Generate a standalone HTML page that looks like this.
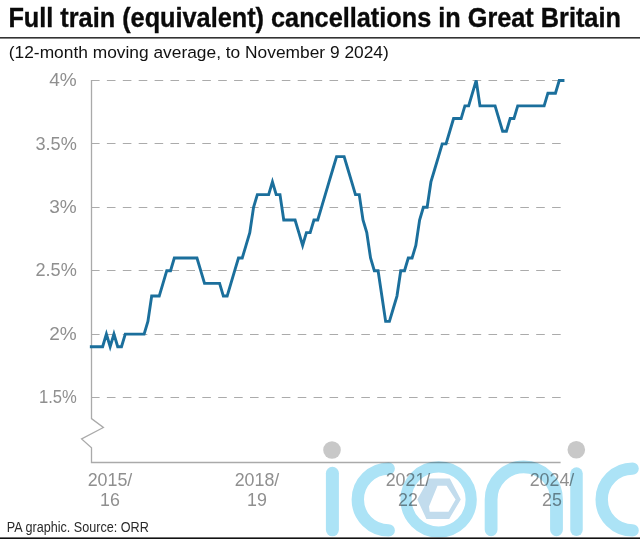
<!DOCTYPE html>
<html><head><meta charset="utf-8">
<style>
html,body{margin:0;padding:0;background:#fff;}
body{width:640px;height:539px;overflow:hidden;position:relative;}
svg{position:absolute;left:0;top:0;}
text{font-family:"Liberation Sans",sans-serif;}
.g{stroke:#ababab;stroke-width:1;stroke-dasharray:8.6 7.3;}
.yl{font-size:18.5px;fill:#8f8f8f;text-anchor:end;}
.xl{font-size:18.8px;fill:#8f8f8f;text-anchor:middle;}
</style></head><body>
<svg width="640" height="539" viewBox="0 0 640 539">
<rect x="0" y="0" width="640" height="539" fill="#fff"/>
<text x="8.4" y="26.6" font-size="26.8" font-weight="bold" fill="#0a0a0a" stroke="#0a0a0a" stroke-width="0.35" textLength="612.5" lengthAdjust="spacingAndGlyphs">Full train (equivalent) cancellations in Great Britain</text>
<rect x="0" y="37" width="640" height="1.6" fill="#333"/>
<text x="8.8" y="58.1" font-size="16.8" fill="#111" textLength="380" lengthAdjust="spacingAndGlyphs">(12-month moving average, to November 9 2024)</text>
<line x1="91" y1="80.50" x2="564" y2="80.50" class="g"/>
<text transform="translate(76.8,86.10) scale(1.03,1)" x="0" y="0" class="yl">4%</text>
<line x1="91" y1="143.50" x2="564" y2="143.50" class="g"/>
<text transform="translate(76.8,149.50) scale(0.98,1)" x="0" y="0" class="yl">3.5%</text>
<line x1="91" y1="207.50" x2="564" y2="207.50" class="g"/>
<text transform="translate(76.8,212.90) scale(1.03,1)" x="0" y="0" class="yl">3%</text>
<line x1="91" y1="270.50" x2="564" y2="270.50" class="g"/>
<text transform="translate(76.8,276.30) scale(0.98,1)" x="0" y="0" class="yl">2.5%</text>
<line x1="91" y1="334.50" x2="564" y2="334.50" class="g"/>
<text transform="translate(76.8,339.70) scale(1.03,1)" x="0" y="0" class="yl">2%</text>
<line x1="91" y1="397.50" x2="564" y2="397.50" class="g"/>
<text transform="translate(76.8,403.10) scale(0.9,1)" x="0" y="0" class="yl">1.5%</text>

<polyline points="91.5,80 91.5,418.6 103.4,427.5 81.6,439 91.5,447.8 91.5,462.5 560.6,462.5" fill="none" stroke="#aaaaaa" stroke-width="1.3"/>
<polyline points="91.30,346.78 95.07,346.78 98.85,346.78 102.62,346.78 106.39,334.10 110.17,346.78 113.94,334.10 117.72,346.78 121.49,346.78 125.26,334.10 129.04,334.10 132.81,334.10 136.58,334.10 140.36,334.10 144.13,334.10 147.90,321.42 151.68,296.06 155.45,296.06 159.22,296.06 163.00,283.38 166.77,270.70 170.55,270.70 174.32,258.02 178.09,258.02 181.87,258.02 185.64,258.02 189.41,258.02 193.19,258.02 196.96,258.02 200.73,270.70 204.51,283.38 208.28,283.38 212.06,283.38 215.83,283.38 219.60,283.38 223.38,296.06 227.15,296.06 230.92,283.38 234.70,270.70 238.47,258.02 242.24,258.02 246.02,245.34 249.79,232.66 253.56,207.30 257.34,194.62 261.11,194.62 264.89,194.62 268.66,194.62 272.43,181.94 276.21,194.62 279.98,194.62 283.75,219.98 287.53,219.98 291.30,219.98 295.07,219.98 298.85,232.66 302.62,245.34 306.40,232.66 310.17,232.66 313.94,219.98 317.72,219.98 321.49,207.30 325.26,194.62 329.04,181.94 332.81,169.26 336.58,156.58 340.36,156.58 344.13,156.58 347.90,169.26 351.68,181.94 355.45,194.62 359.23,194.62 363.00,219.98 366.77,232.66 370.55,258.02 374.32,270.70 378.09,270.70 381.87,296.06 385.64,321.42 389.41,321.42 393.19,308.74 396.96,296.06 400.74,270.70 404.51,270.70 408.28,258.02 412.06,258.02 415.83,245.34 419.60,219.98 423.38,207.30 427.15,207.30 430.92,181.94 434.70,169.26 438.47,156.58 442.24,143.90 446.02,143.90 449.79,131.22 453.57,118.54 457.34,118.54 461.11,118.54 464.89,105.86 468.66,105.86 472.43,93.18 476.21,80.50 479.98,105.86 483.75,105.86 487.53,105.86 491.30,105.86 495.08,105.86 498.85,118.54 502.62,131.22 506.40,131.22 510.17,118.54 513.94,118.54 517.72,105.86 521.49,105.86 525.26,105.86 529.04,105.86 532.81,105.86 536.58,105.86 540.36,105.86 544.13,105.86 547.91,93.18 551.68,93.18 555.45,93.18 559.23,80.50 563.00,80.50" fill="none" stroke="#1b6f9c" stroke-width="2.9" stroke-linejoin="miter" stroke-miterlimit="4" stroke-linecap="square"/>
<text class="xl" transform="translate(110.0,0) scale(0.95,1)" x="0" y="485.8">2015/</text><text class="xl" transform="translate(110.0,0) scale(0.95,1)" x="0" y="505.7">16</text>
<text class="xl" transform="translate(257.0,0) scale(0.95,1)" x="0" y="485.8">2018/</text><text class="xl" transform="translate(257.0,0) scale(0.95,1)" x="0" y="505.7">19</text>
<text class="xl" transform="translate(408.0,0) scale(0.95,1)" x="0" y="485.8">2021/</text><text class="xl" transform="translate(408.0,0) scale(0.95,1)" x="0" y="505.7">22</text>
<text class="xl" transform="translate(552.0,0) scale(0.95,1)" x="0" y="485.8">2024/</text><text class="xl" transform="translate(552.0,0) scale(0.95,1)" x="0" y="505.7">25</text>
<text x="6.8" y="532" font-size="14" fill="#2a2a2a" textLength="142" lengthAdjust="spacingAndGlyphs">PA graphic. Source: ORR</text>
<g style="mix-blend-mode:multiply">
<g fill="#c8c8c8"><circle cx="332" cy="450" r="8.8"/><circle cx="576.3" cy="449.7" r="8.8"/></g>
<g fill="none" stroke="#ace3f6" stroke-linecap="round">
<line x1="332.4" y1="473.3" x2="332.4" y2="529.8" stroke-width="13"/>
<line x1="576.5" y1="473.6" x2="576.5" y2="529.8" stroke-width="12.5"/>
<path d="M388.7,468.6 A30.9,30.9 0 0 0 388.7,530.4" stroke-width="12.4"/>
<path d="M632.6,468.6 A30.9,30.9 0 0 0 632.6,530.4" stroke-width="12.4"/>
<circle cx="438.6" cy="499.4" r="32.6" stroke-width="11.2"/>
<path d="M491.1,529.8 L491.1,499.6 A32.7,32.7 0 0 1 556.5,499.6 L556.5,529.8" stroke-width="12.8"/>
</g>
<polygon fill="#c2dced" fill-rule="evenodd" points="429,478.6 449.8,478.6 460.8,499.4 449.2,518.9 426.4,518.9 417.3,499.4 429,478.6 437.5,485.8 429,506.6 429.7,511.8 448.5,511.8 455.6,499.4 446.6,485.8 437.5,485.8"/>
</g>
<rect x="0" y="537.4" width="640" height="1.6" fill="#111"/>
</svg>
</body></html>
